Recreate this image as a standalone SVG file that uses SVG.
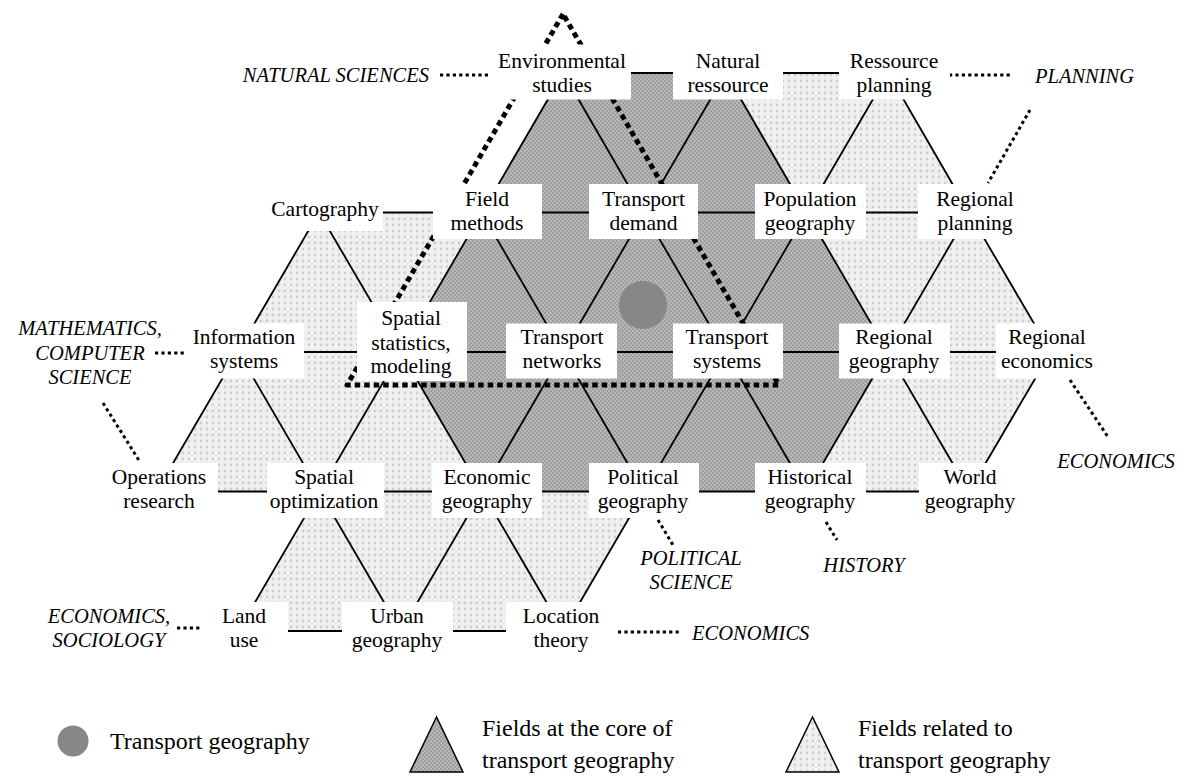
<svg xmlns="http://www.w3.org/2000/svg" width="1184" height="776" viewBox="0 0 1184 776">
<style>
.lbl{font-family:"Times New Roman",Times,"Liberation Serif",serif;font-size:21.5px;fill:#000;text-anchor:middle}
.ext{font-family:"Times New Roman",Times,"Liberation Serif",serif;font-size:20.5px;font-style:italic;fill:#000}
.leg{font-family:"Times New Roman",Times,"Liberation Serif",serif;font-size:24px;fill:#000}
.box{fill:#fff}
.edge{stroke:#000;stroke-width:1.8;fill:none}
.dot{stroke:#000;stroke-width:3;stroke-dasharray:3.2 3.2;fill:none}
.dash{stroke:#000;stroke-width:5;stroke-dasharray:5.5 4;fill:none;stroke-linejoin:round}
</style>
<defs>
<pattern id="dk" width="4" height="4" patternUnits="userSpaceOnUse"><rect width="4" height="4" fill="#b8b8b8"/><rect width="2" height="2" fill="#9e9e9e"/><rect x="2" y="2" width="2" height="2" fill="#9e9e9e"/></pattern>
<pattern id="lt" width="6" height="6" patternUnits="userSpaceOnUse"><rect width="6" height="6" fill="#f0f0f0"/><circle cx="3" cy="3" r="1.4" fill="#cfcfcf"/></pattern>
</defs>
<rect width="1184" height="776" fill="#fff"/>
<g id="fills">
<polygon fill="url(#dk)" points="563.25,73 725.75,73 806.5,212.5 888.25,352 806.5,491.5 644,491.5 481.5,491.5 400.75,352 481.5,212.5"/>
<polygon fill="url(#lt)" points="725.75,73 888.25,73 969,212.5 1050.75,352 969,491.5 806.5,491.5 888.25,352 806.5,212.5"/>
<polygon fill="url(#lt)" points="319,212.5 481.5,212.5 400.75,352 481.5,491.5 644,491.5 563.25,631 238.25,631 319,491.5 156.5,491.5 238.25,352"/>
</g>
<g id="connectors">
<path class="edge" d="M563.25,73H888.25 M319,212.5H969 M238.25,352H1050.75 M156.5,491.5H969 M238.25,631H563.25
M563.25,73L238.25,631 M725.75,73L400.75,631 M888.25,73L563.25,631 M969,212.5L806.5,491.5 M1050.75,352L969,491.5
M319,212.5L156.5,491.5 M563.25,73L644,212.5 M725.75,73L806.5,212.5 M888.25,73L969,212.5
M319,212.5L400.75,352 M481.5,212.5L644,491.5 M644,212.5L806.5,491.5 M806.5,212.5L969,491.5 M969,212.5L1050.75,352
M238.25,352L400.75,631 M400.75,352L563.25,631"/>
<path class="dash" d="M563,14L347,385H779Z"/>
<circle cx="643" cy="305" r="24" fill="#878787"/>
<path class="dot" d="M440,75H490"/>
<path class="dot" d="M949,75H1012"/>
<path class="dot" d="M1030,110L988,183"/>
<path class="dot" d="M155,353H185"/>
<path class="dot" d="M103,403L140,462"/>
<path class="dot" d="M177,628H202"/>
<path class="dot" d="M618,632H682"/>
<path class="dot" d="M658,520L673,545"/>
<path class="dot" d="M826,522L837,540"/>
<path class="dot" d="M1070,380L1108,437"/>
</g>
<g id="nodes">
<g id="n-env"><rect class="box" x="492" y="44.5" width="139" height="55"/><text class="lbl" x="562" y="68">Environmental</text><text class="lbl" x="562" y="92">studies</text></g>
<g id="n-nat"><rect class="box" x="673" y="44.5" width="110" height="55"/><text class="lbl" x="728" y="68">Natural</text><text class="lbl" x="728" y="92">ressource</text></g>
<g id="n-rp"><rect class="box" x="839" y="44.5" width="111" height="55"/><text class="lbl" x="894" y="68">Ressource</text><text class="lbl" x="894" y="92">planning</text></g>
<g id="n-cart"><rect class="box" x="262" y="191" width="121" height="40"/><text class="lbl" x="325" y="216">Cartography</text></g>
<g id="n-field"><rect class="box" x="433" y="184" width="109" height="55"/><text class="lbl" x="487" y="206">Field</text><text class="lbl" x="487" y="230">methods</text></g>
<g id="n-td"><rect class="box" x="589" y="184" width="109" height="55"/><text class="lbl" x="643.5" y="206">Transport</text><text class="lbl" x="643.5" y="230">demand</text></g>
<g id="n-pop"><rect class="box" x="755" y="184" width="111" height="55"/><text class="lbl" x="810" y="206">Population</text><text class="lbl" x="810" y="230">geography</text></g>
<g id="n-regpl"><rect class="box" x="918" y="184" width="112" height="55"/><text class="lbl" x="975" y="206">Regional</text><text class="lbl" x="975" y="230">planning</text></g>
<g id="n-is"><rect class="box" x="185" y="323.5" width="119" height="55"/><text class="lbl" x="244" y="344">Information</text><text class="lbl" x="244" y="368">systems</text></g>
<g id="n-ss"><rect class="box" x="357" y="302" width="110" height="79"/><text class="lbl" x="411" y="325">Spatial</text><text class="lbl" x="411" y="350">statistics,</text><text class="lbl" x="411" y="373">modeling</text></g>
<g id="n-tn"><rect class="box" x="506" y="323.5" width="111" height="55"/><text class="lbl" x="562" y="344">Transport</text><text class="lbl" x="562" y="368">networks</text></g>
<g id="n-ts"><rect class="box" x="673" y="323.5" width="110" height="55"/><text class="lbl" x="727" y="344">Transport</text><text class="lbl" x="727" y="368">systems</text></g>
<g id="n-rg"><rect class="box" x="839" y="323.5" width="111" height="55"/><text class="lbl" x="894" y="344">Regional</text><text class="lbl" x="894" y="368">geography</text></g>
<g id="n-re"><rect class="box" x="996" y="323.5" width="104" height="55"/><text class="lbl" x="1047" y="344">Regional</text><text class="lbl" x="1047" y="368">economics</text></g>
<g id="n-or"><rect class="box" x="100" y="463" width="118" height="55"/><text class="lbl" x="159" y="483.5">Operations</text><text class="lbl" x="159" y="507.5">research</text></g>
<g id="n-so"><rect class="box" x="267" y="463" width="117" height="55"/><text class="lbl" x="324" y="483.5">Spatial</text><text class="lbl" x="324" y="507.5">optimization</text></g>
<g id="n-eg"><rect class="box" x="432" y="463" width="110" height="55"/><text class="lbl" x="487" y="483.5">Economic</text><text class="lbl" x="487" y="507.5">geography</text></g>
<g id="n-pg"><rect class="box" x="589" y="463" width="110" height="55"/><text class="lbl" x="643" y="483.5">Political</text><text class="lbl" x="643" y="507.5">geography</text></g>
<g id="n-hg"><rect class="box" x="755" y="463" width="111" height="55"/><text class="lbl" x="810" y="483.5">Historical</text><text class="lbl" x="810" y="507.5">geography</text></g>
<g id="n-wg"><rect class="box" x="919" y="463" width="111" height="55"/><text class="lbl" x="970" y="483.5">World</text><text class="lbl" x="970" y="507.5">geography</text></g>
<g id="n-lu"><rect class="box" x="203" y="602" width="85" height="55"/><text class="lbl" x="244" y="623">Land</text><text class="lbl" x="244" y="647">use</text></g>
<g id="n-ug"><rect class="box" x="342" y="602" width="111" height="55"/><text class="lbl" x="397" y="623">Urban</text><text class="lbl" x="397" y="647">geography</text></g>
<g id="n-lt"><rect class="box" x="506" y="602" width="111" height="55"/><text class="lbl" x="561" y="623">Location</text><text class="lbl" x="561" y="647">theory</text></g>
</g>
<g id="external">
<text class="ext" x="429" y="82" text-anchor="end">NATURAL SCIENCES</text>
<text class="ext" x="1035" y="83">PLANNING</text>
<text class="ext" x="90" y="335" text-anchor="middle">MATHEMATICS,</text>
<text class="ext" x="90" y="360" text-anchor="middle">COMPUTER</text>
<text class="ext" x="90" y="384" text-anchor="middle">SCIENCE</text>
<text class="ext" x="109" y="623" text-anchor="middle">ECONOMICS,</text>
<text class="ext" x="109" y="647" text-anchor="middle">SOCIOLOGY</text>
<text class="ext" x="692" y="640">ECONOMICS</text>
<text class="ext" x="691" y="565" text-anchor="middle">POLITICAL</text>
<text class="ext" x="691" y="589" text-anchor="middle">SCIENCE</text>
<text class="ext" x="864" y="572" text-anchor="middle">HISTORY</text>
<text class="ext" x="1116" y="468" text-anchor="middle">ECONOMICS</text>
</g>
<g id="legend">
<circle cx="73" cy="741" r="15.5" fill="#878787"/>
<text class="leg" x="110" y="749">Transport geography</text>
<polygon points="436.5,717 410,772 463,772" fill="url(#dk)" stroke="#000" stroke-width="1.5"/>
<text class="leg" x="482" y="736">Fields at the core of</text>
<text class="leg" x="482" y="768">transport geography</text>
<polygon points="812.5,717 786,772 839,772" fill="url(#lt)" stroke="#000" stroke-width="1.5"/>
<text class="leg" x="858" y="736">Fields related to</text>
<text class="leg" x="858" y="768">transport geography</text>
</g>
</svg>
